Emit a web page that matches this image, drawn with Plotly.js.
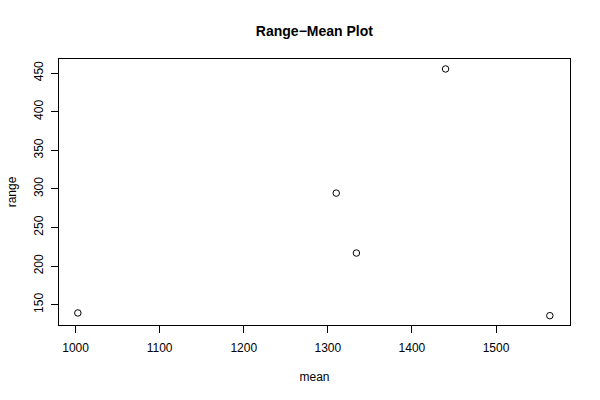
<!DOCTYPE html>
<html>
<head>
<meta charset="utf-8">
<script src="https://cdn.plot.ly/plotly-3.0.1.min.js"></script>
<style>html,body{margin:0;padding:0;background:#fff;}#chart{width:600px;height:400px;}</style>
</head>
<body>
<div id="chart"></div>
<script>
var meanValues = [1002.7, 1310, 1334, 1440, 1564];
var rangeValues = [139.3, 294.5, 216.9, 455.3, 135.8];
var xTickValues = [1000, 1100, 1200, 1300, 1400, 1500];
var yTickValues = [150, 200, 250, 300, 350, 400, 450];

var font = "Liberation Sans, Arial, Helvetica, sans-serif";

var trace = {
  x: meanValues,
  y: rangeValues,
  type: 'scatter',
  mode: 'markers',
  marker: {symbol: 'circle-open', size: 6.5, color: '#000', line: {width: 1, color: '#000'}},
  hoverinfo: 'x+y'
};

var layout = {
  width: 600,
  height: 400,
  margin: {l: 59, r: 30, t: 59, b: 75, pad: 0},
  paper_bgcolor: '#fff',
  plot_bgcolor: '#fff',
  showlegend: false,
  font: {family: font, size: 12, color: '#000'},
  title: {text: '<b>Range\u2212Mean Plot</b>', font: {family: font, size: 14, color: '#000'}, x: 0.524, xanchor: 'center', y: 0.922, yanchor: 'middle'},
  xaxis: {
    range: [980.3, 1588],
    tickvals: xTickValues,
    ticktext: xTickValues.map(String),
    ticks: 'outside', ticklen: 7, tickwidth: 1, tickcolor: '#000',
    ticklabelstandoff: 5,
    showline: true, linecolor: '#000', linewidth: 1, mirror: true,
    showgrid: false, zeroline: false,
    tickfont: {family: font, size: 12, color: '#000'},
    title: {text: 'mean', font: {family: font, size: 12, color: '#000'}, standoff: 18},
    automargin: false
  },
  yaxis: {
    range: [123.7, 468.2],
    tickvals: yTickValues,
    ticktext: yTickValues.map(String),
    tickangle: -90,
    ticks: 'outside', ticklen: 7, tickwidth: 1, tickcolor: '#000',
    ticklabelstandoff: 3,
    showline: true, linecolor: '#000', linewidth: 1, mirror: true,
    showgrid: false, zeroline: false,
    tickfont: {family: font, size: 12, color: '#000'},
    title: {text: 'range', font: {family: font, size: 12, color: '#000'}, standoff: 13},
    automargin: false
  }
};

Plotly.newPlot('chart', [trace], layout, {displayModeBar: false, staticPlot: true});
</script>
</body>
</html>
